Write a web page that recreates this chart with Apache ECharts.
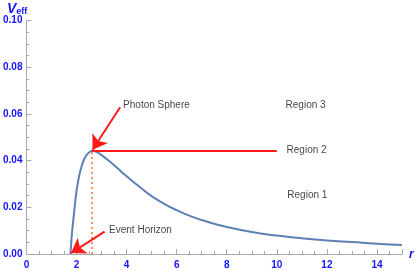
<!DOCTYPE html>
<html><head><meta charset="utf-8">
<script src="https://cdn.jsdelivr.net/npm/echarts@6/dist/echarts.min.js"></script>
<style>html,body{margin:0;padding:0;background:#fff}#c{width:417px;height:271px}</style>
</head><body><div id="c"></div>
<script>
// Effective potential curve
const rValues = [1.76, 1.80, 1.85, 1.90, 1.95, 2.00, 2.10, 2.20, 2.30, 2.40, 2.50, 2.60, 2.70, 2.80, 3.00, 3.20, 3.40, 3.80, 4.20, 4.60, 5.00, 5.50, 6.00, 6.60, 7.20, 8.00, 9.00, 10.0, 11.0, 12.0, 13.0, 14.0, 15.0];
const vEff = [0, 0.0065, 0.0125, 0.0175, 0.0225, 0.0270, 0.0332, 0.0375, 0.0405, 0.0424, 0.0435, 0.0441, 0.0441, 0.0437, 0.0424, 0.0407, 0.0390, 0.0352, 0.0315, 0.0281, 0.0248, 0.0215, 0.0188, 0.0160, 0.0139, 0.0116, 0.0094, 0.0079, 0.0067, 0.0058, 0.0051, 0.0044, 0.0039];
const xTicks = [0, 2, 4, 6, 8, 10, 12, 14];
const yTicks = ['0.00', '0.02', '0.04', '0.06', '0.08', '0.10'];
// Marker geometry in data coordinates
const photonSphereR = 2.62, photonSphereV = 0.0441;
const region2EndR = 10;
const arrowPhoton = [[3.74, 0.0629], [2.64, 0.0447]];
const arrowHorizon = [[3.12, 0.0096], [1.78, 0.0004]];
const labelTexts = ['Photon Sphere', 'Event Horizon', 'Region 3', 'Region 2', 'Region 1'];
const labelR = [3.86, 3.30, 10.35, 10.39, 10.42];
const labelV = [0.0639, 0.0103, 0.0637, 0.0446, 0.0253];

const blue = '#1414ff';
const axisGray = '#a8a8a8';
const chart = echarts.init(document.getElementById('c'));
chart.setOption({
  animation: false,
  grid: {left: 25, right: 15, top: 20.7, bottom: 17, containLabel: false},
  xAxis: {
    type: 'value', min: 0, max: 15, interval: 2,
    axisLine: {lineStyle: {color: axisGray, width: 1}},
    axisTick: {inside: true, length: 5, lineStyle: {color: axisGray}},
    minorTick: {show: true, splitNumber: 4, length: 3, lineStyle: {color: axisGray}},
    splitLine: {show: false},
    axisLabel: {color: blue, fontWeight: 'bold', fontSize: 10, fontFamily: 'Liberation Sans, Arial', margin: 6, showMaxLabel: false,
      formatter: v => xTicks.includes(v) ? String(v) : ''}
  },
  yAxis: {
    type: 'value', min: 0, max: 0.1, interval: 0.02,
    axisLine: {show: true, lineStyle: {color: axisGray, width: 1}},
    axisTick: {show: true, inside: true, length: 5, lineStyle: {color: axisGray}},
    minorTick: {show: true, splitNumber: 4, length: 3, lineStyle: {color: axisGray}},
    splitLine: {show: false},
    axisLabel: {color: blue, fontWeight: 'bold', fontSize: 10, fontFamily: 'Liberation Sans, Arial', margin: 4,
      formatter: v => yTicks[Math.round(v / 0.02)]}
  },
  graphic: [
    {type: 'text', left: 7, top: 2, style: {
      text: '{v|V}{s|eff}',
      rich: {
        v: {fontSize: 14, fontWeight: 'bold', fontStyle: 'italic', fill: blue, fontFamily: 'Liberation Sans, Arial'},
        s: {fontSize: 9, fontWeight: 'bold', fill: blue, fontFamily: 'Liberation Sans, Arial', padding: [6, 0, 0, 0]}
      }}},
    {type: 'text', left: 409, top: 249, style: {text: 'r', fontSize: 12, fontWeight: 'bold', fontStyle: 'italic', fill: blue, fontFamily: 'Liberation Sans, Arial'}}
  ],
  series: [
    {
      type: 'line', data: rValues.map((r, i) => [r, vEff[i]]), smooth: 0.5, showSymbol: false,
      lineStyle: {color: '#5e81b5', width: 2}, z: 3
    },
    {
      type: 'lines', coordinateSystem: 'cartesian2d', z: 4,
      lineStyle: {color: '#ff9050', width: 2, type: [2, 3], opacity: 1},
      symbol: ['none', 'none'],
      data: [{coords: [[photonSphereR, 0], [photonSphereR, photonSphereV]]}]
    },
    {
      type: 'lines', coordinateSystem: 'cartesian2d', z: 5,
      lineStyle: {color: '#ff1a1a', width: 2, opacity: 1},
      symbol: ['none', 'none'],
      data: [{coords: [[photonSphereR, photonSphereV], [region2EndR, photonSphereV]]}]
    },
    {
      type: 'lines', coordinateSystem: 'cartesian2d', z: 6,
      lineStyle: {color: '#ff1a1a', width: 2, opacity: 1},
      symbol: ['none', 'arrow'], symbolSize: 14,
      data: [{coords: arrowPhoton}, {coords: arrowHorizon}]
    },
    {
      type: 'scatter', symbolSize: 0, z: 7,
      data: labelTexts.map((t, i) => ({name: t, value: [labelR[i], labelV[i]]})),
      label: {show: true, position: 'right', distance: 0, formatter: p => p.name,
        color: '#111', fontSize: 10, fontFamily: 'Liberation Sans, Arial'}
    }
  ]
});
</script></body></html>
